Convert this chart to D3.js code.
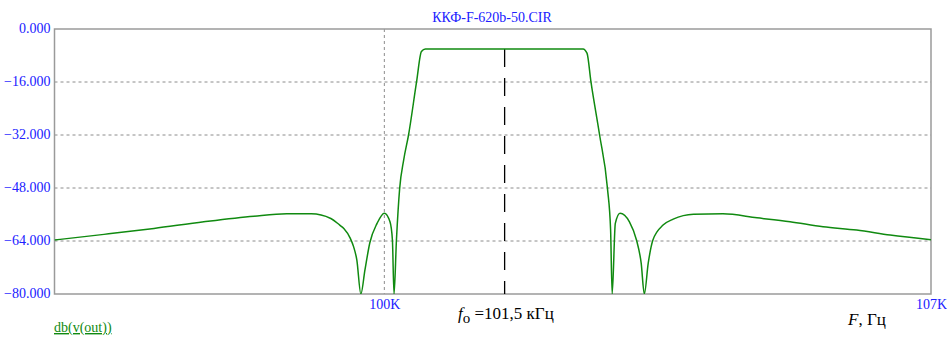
<!DOCTYPE html>
<html>
  <head>
    <meta charset="utf-8">
    <style>
      body { margin: 0; background: white; }
      svg { display: block; }
      .lbl { font-family: "Liberation Serif", serif; }
    </style>
  </head>
  <body>
    <script src="https://cdn.jsdelivr.net/npm/d3@7"></script>
    <script>
      // frequency, kHz (log scale) and response, dB
      var freq = [96.0, 96.59, 97.19, 97.79, 98.40, 98.80, 99.10, 99.34, 99.45, 99.50, 99.58, 99.62, 99.66, 99.71,
                  99.76, 99.82, 99.91, 100.00, 100.07, 100.10, 100.12, 100.15, 100.19, 100.24, 100.30, 100.40, 100.46, 100.51,
                  102.49, 102.54, 102.59, 102.70, 102.80, 102.84, 102.86, 102.90, 102.96, 103.08, 103.17, 103.23, 103.27,
                  103.32, 103.38, 103.51, 103.64, 103.90, 104.28, 104.72, 105.15, 105.58, 106.02, 106.46, 107.0];
      var gain = [-63.7, -62.0, -60.2, -58.2, -56.5, -55.8, -55.8, -57.2, -59.2, -60.2, -63.2, -65.7, -69.7, -80,
                  -72.8, -64.6, -58.7, -55.6, -58.2, -63.7, -80, -63.7, -48.1, -39.5, -32.0, -15.9, -6.8, -6.0,
                  -6.0, -7.3, -15.9, -32.0, -48.1, -60.7, -80, -58.7, -55.6, -58.2, -63.7, -70.7, -80,
                  -70.7, -63.7, -59.2, -57.4, -55.9, -55.8, -57.0, -58.2, -59.7, -60.7, -62.2, -63.6];
      var yTicks = [0, -16, -32, -48, -64, -80];
      var xTicks = [100, 107];
      var xGrid = [100];
      var f0 = 101.5;
      var title = "ККФ-F-620b-50.CIR";

      var W = 947, H = 338;
      var margin = { top: 29, right: 16, bottom: 44, left: 54.5 };

      var svg = d3.select("body").append("svg")
          .attr("width", W)
          .attr("height", H);

      var x = d3.scaleLog().domain([96, 107]).range([margin.left, W - margin.right]);
      var y = d3.scaleLinear().domain([-80, 0]).range([H - margin.bottom, margin.top]);

      svg.append("defs").append("clipPath").attr("id", "clip")
        .append("rect")
          .attr("x", x.range()[0]).attr("y", y.range()[1])
          .attr("width", x.range()[1] - x.range()[0])
          .attr("height", y.range()[0] - y.range()[1]);

      // dashed grid
      svg.append("g").selectAll("line")
        .data(yTicks.slice(1, -1))
        .enter().append("line")
          .attr("x1", x.range()[0]).attr("x2", x.range()[1])
          .attr("y1", function(d) { return y(d); }).attr("y2", function(d) { return y(d); })
          .attr("stroke", "#8c8c8c").attr("stroke-dasharray", "3,3");

      svg.append("g").selectAll("line")
        .data(xGrid)
        .enter().append("line")
          .attr("x1", function(d) { return x(d); }).attr("x2", function(d) { return x(d); })
          .attr("y1", y.range()[1]).attr("y2", y.range()[0])
          .attr("stroke", "#8c8c8c").attr("stroke-dasharray", "3,3");

      // y axis labels
      var yAxis = d3.axisLeft(y).tickValues(yTicks).tickSize(0).tickPadding(4).tickFormat(d3.format(".3f"));
      var gy = svg.append("g").attr("transform", "translate(" + x.range()[0] + ",0)").call(yAxis);
      gy.select(".domain").remove();
      gy.selectAll("text").attr("class", "lbl").attr("font-size", 14).attr("fill", "#2020ff").attr("dy", "0.25em");

      var xAxis = d3.axisBottom(x).tickValues(xTicks).tickSize(0).tickPadding(5).tickFormat(function(d) { return d + "K"; });
      var gx = svg.append("g").attr("transform", "translate(0," + y.range()[0] + ")").call(xAxis);
      gx.select(".domain").remove();
      gx.selectAll("text").attr("class", "lbl").attr("font-size", 14).attr("fill", "#2020ff");

      // frame
      svg.append("rect")
        .attr("x", x.range()[0]).attr("y", y.range()[1])
        .attr("width", x.range()[1] - x.range()[0])
        .attr("height", y.range()[0] - y.range()[1])
        .attr("fill", "none").attr("stroke", "#9a9a9a").attr("stroke-width", 1.5);

      // centre frequency marker
      svg.append("line")
        .attr("x1", x(f0)).attr("x2", x(f0))
        .attr("y1", y(-6)).attr("y2", y(-80))
        .attr("stroke", "black").attr("stroke-width", 1.3).attr("stroke-dasharray", "18,11");

      var line = d3.line()
        .x(function(d, i) { return x(freq[i]); })
        .y(function(d) { return y(d); })
        .curve(d3.curveMonotoneX);

      svg.append("path")
        .datum(gain)
        .attr("clip-path", "url(#clip)")
        .attr("d", line)
        .attr("fill", "none")
        .attr("stroke", "#108a10")
        .attr("stroke-width", 1.5);

      // texts
      svg.append("text").attr("class", "lbl")
        .attr("x", 492).attr("y", 22)
        .attr("text-anchor", "middle").attr("font-size", 14).attr("fill", "#2020ff")
        .text(title);

      var ft = svg.append("text").attr("class", "lbl")
        .attr("x", 458).attr("y", 319).attr("font-size", 17).attr("fill", "black");
      ft.append("tspan").attr("font-style", "italic").text("f");
      ft.append("tspan").attr("dy", 4).attr("font-size", 15).text("о");
      ft.append("tspan").attr("dy", -4).text(" =101,5 кГц");

      var fa = svg.append("text").attr("class", "lbl")
        .attr("x", 848).attr("y", 325).attr("font-size", 17).attr("fill", "black");
      fa.append("tspan").attr("font-style", "italic").text("F");
      fa.append("tspan").text(", Гц");

      svg.append("text").attr("class", "lbl")
        .attr("x", 54).attr("y", 332).attr("font-size", 14).attr("fill", "#108a10")
        .attr("text-decoration", "underline")
        .text("db(v(out))");
    </script>
  </body>
</html>
